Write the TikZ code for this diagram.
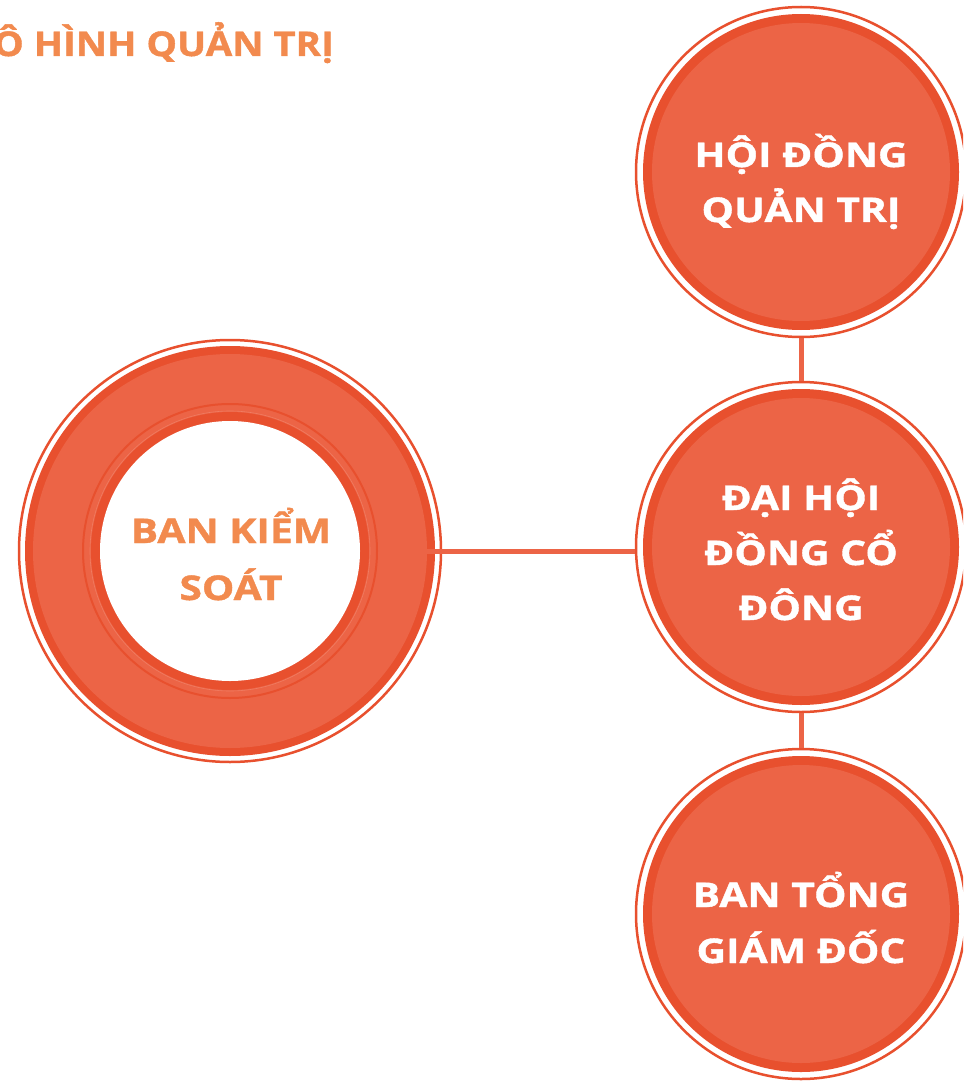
\documentclass[tikz,border=0pt]{standalone}
\usepackage{fontspec}
\setmainfont{Open Sans}[FakeStretch=1.2, BoldFeatures={FakeBold=1.2}]
\newfontfamily\titlefont{Open Sans}[FakeStretch=1.13, BoldFeatures={FakeBold=1.2}]
\definecolor{ringdark}{HTML}{E8502E}
\definecolor{ringfill}{HTML}{EC6446}
\definecolor{orangetxt}{HTML}{F28A4E}
\definecolor{faintline}{HTML}{F07C62}
\begin{document}
\begin{tikzpicture}[x=1pt,y=-1pt,
  thinring/.style={circle, draw=ringdark, line width=2.5pt, inner sep=0pt, minimum size=#1},
  disk/.style 2 args={circle, fill=#1, inner sep=0pt, minimum size=#2},
  lbl/.style={anchor=base, inner sep=0pt, font=\fontsize{34}{40}\selectfont\bfseries},
  wlbl/.style={lbl, text=white},
  olbl/.style={lbl, text=orangetxt},
  conn/.style={draw=ringfill, line width=5pt}
]
\clip (0,0) rectangle (963,1086);
\fill[white] (0,0) rectangle (963,1086);

% title
\node[olbl, anchor=base east, font=\titlefont\fontsize{34}{40}\selectfont\bfseries] (title) at (334,56) {MÔ HÌNH QUẢN TRỊ};

% right circles
\foreach \nm/\cy in {hdqt/172, dhcd/547, btgd/914}{
  \node[thinring=330pt] (\nm) at (801,\cy) {};
  \node[disk={ringdark}{316pt}] (\nm-band) at (801,\cy) {};
  \node[disk={ringfill}{298pt}] (\nm-fill) at (801,\cy) {};
}

% left circle
\node[thinring=422pt] (bks) at (230,551) {};
\node[disk={ringdark}{410pt}] (bks-band) at (230,551) {};
\node[disk={ringfill}{394pt}] (bks-fill) at (230,551) {};
\node[circle, draw=ringdark, line width=2pt, inner sep=0pt, minimum size=294pt] (bks-ring) at (230,551) {};
\node[disk={ringdark}{278pt}] (bks-inband) at (230,551) {};
\node[circle, draw=faintline, line width=0.6pt, inner sep=0pt, minimum size=280pt] (bks-faint) at (230,551) {};
\node[disk={white}{260pt}] (bks-core) at (230,551) {};

% connectors
\draw[conn] (hdqt.south) -- (dhcd.north);
\draw[conn] (dhcd.south) -- (btgd.north);
\draw[conn] (bks-fill.east) -- (bks-fill.east -| dhcd.west);

% labels
\node[wlbl] (hdqt-l1) at (801,167) {HỘI ĐỒNG};
\node[wlbl] (hdqt-l2) at (801,222) {QUẢN TRỊ};
\node[wlbl] (dhcd-l1) at (801,510) {ĐẠI HỘI};
\node[wlbl] (dhcd-l2) at (801,565) {ĐỒNG CỔ};
\node[wlbl] (dhcd-l3) at (801,620) {ĐÔNG};
\node[wlbl] (btgd-l1) at (801,907) {BAN TỔNG};
\node[wlbl] (btgd-l2) at (801,963) {GIÁM ĐỐC};
\node[olbl] (bks-l1) at (231,543) {BAN KIỂM};
\node[olbl] (bks-l2) at (231,600) {SOÁT};
\end{tikzpicture}
\end{document}
